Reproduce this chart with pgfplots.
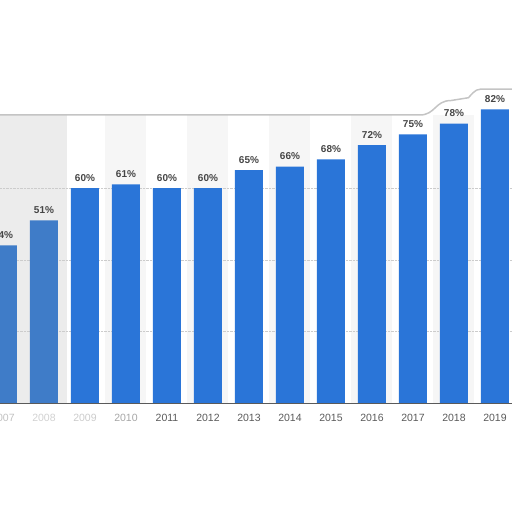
\documentclass[border=0pt]{standalone}
\usepackage{pgfplots}
\pgfplotsset{compat=1.18}
\usepackage{fontspec}
\setmainfont{Liberation Sans}
\definecolor{barblue}{HTML}{2A75D8}
\definecolor{fadeblue}{HTML}{3F7CC8}
\definecolor{band}{HTML}{F6F6F6}
\definecolor{haze}{HTML}{ECECEC}
\definecolor{labelgray}{HTML}{454545}
\definecolor{tickgray}{HTML}{5A5A5A}
\definecolor{topgray}{HTML}{C4C4C4}

\begin{document}
\begin{tikzpicture}
\begin{axis}[
    set layers,
    scale only axis,
    width=512pt, height=288pt,
    xmin=2006.927, xmax=2019.415,
    ymin=0, ymax=80.4,
    clip=false,
    axis line style={draw=none},
    major tick length=0pt,
    /pgf/number format/assume math mode=true,
    xtick={2007,...,2019},
    xticklabels={{\color{haze!60!gray}2007},{\color{haze!75!gray}2008},{\color{haze!70!gray}2009},{\color{gray!70}2010},2011,2012,2013,2014,2015,2016,2017,2018,2019},
    xticklabel style={font=\fontsize{10.5}{12}\selectfont, text=tickgray, yshift=-8pt},
    ytick={20,40,60}, yticklabels={},
    ymajorgrids=true,
    grid style={densely dotted, gray!40},
    nodes near coords={\pgfmathprintnumber{\pgfplotspointmeta}\%},
    nodes near coords style={font=\bfseries\fontsize{10}{12}\selectfont, text=labelgray, yshift=3pt},
]
% alternating column bands and the hazy left edge
\begin{pgfonlayer}{axis background}
\fill[band] (axis cs:2009.5,0) rectangle (axis cs:2010.5,80.4);
\fill[band] (axis cs:2011.5,0) rectangle (axis cs:2012.5,80.4);
\fill[band] (axis cs:2013.5,0) rectangle (axis cs:2014.5,80.4);
\fill[band] (axis cs:2015.5,0) rectangle (axis cs:2016.5,80.4);
\fill[band] (axis cs:2017.5,0) rectangle (axis cs:2018.5,80.4);
\fill[haze] (axis cs:2006.927,0) rectangle (axis cs:2008.55,80.4);
\end{pgfonlayer}

\addplot[ybar, bar width=28pt, bar shift=0pt, fill=fadeblue, draw=none]
    coordinates {(2007,44) (2008,51)};
\addplot[ybar, bar width=28pt, bar shift=0pt, fill=barblue, draw=none]
    coordinates {(2009,60) (2010,61) (2011,60) (2012,60) (2013,65) (2014,66)
                 (2015,68) (2016,72) (2017,75) (2018,78) (2019,82)};

\draw[tickgray, line width=1pt] (rel axis cs:0,0) -- (rel axis cs:1,0);
\draw[topgray, line width=1.5pt] (rel axis cs:0,1) -- (rel axis cs:0.82,1)
    .. controls (rel axis cs:0.85,1) and (rel axis cs:0.85,1.05) .. (rel axis cs:0.88,1.05)
    -- (rel axis cs:0.915,1.06)
    .. controls (rel axis cs:0.93,1.09) .. (rel axis cs:0.95,1.09) -- (rel axis cs:1,1.09);
\coordinate (O) at (rel axis cs:0,0);
\end{axis}
\pgfresetboundingbox
\path ([yshift=-109pt]O) rectangle ([xshift=512pt,yshift=403pt]O);
\end{tikzpicture}
\end{document}
